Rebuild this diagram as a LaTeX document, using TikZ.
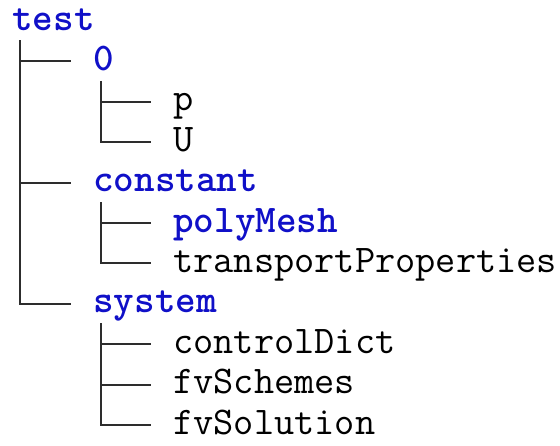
\documentclass[tikz,border=0pt]{standalone}
\usepackage{tikz}
\usetikzlibrary{calc}
\definecolor{dirblue}{RGB}{16,16,200}
\definecolor{treegray}{RGB}{45,45,45}
\tikzset{entry/.style = {anchor = base west, inner xsep = 11pt, inner ysep = 0,
                         text height = 14pt, text depth = 5pt,
                         font = \fontsize{19.6}{23}\selectfont\ttfamily}}
\tikzset{dir/.style = {entry, text = dirblue, font = \fontsize{19.6}{23}\selectfont\ttfamily\bfseries}}
\tikzset{file/.style = {entry, text = black}}
\tikzset{branch/.style = {draw = treegray, line width = 1pt}}

\begin{document}
\begin{tikzpicture}[x = 0.5pt, y = -0.5pt]
    \useasboundingbox (0, 0) rectangle (560, 445);

    \node [dir] (test) at (-10, 30) {test};
    \node [dir] (d0) at (71, 70.4) {0};
    \node [file] (p) at (151, 110.8) {p};
    \node [file] (U) at (151, 151.2) {U};
    \node [dir] (constant) at (71, 191.6) {constant};
    \node [dir] (polyMesh) at (151, 232) {polyMesh};
    \node [file] (transport) at (151, 272.4) {transportProperties};
    \node [dir] (system) at (71, 312.8) {system};
    \node [file] (controlDict) at (151, 353.2) {controlDict};
    \node [file] (fvSchemes) at (151, 393.6) {fvSchemes};
    \node [file] (fvSolution) at (151, 434) {fvSolution};

    % trunks
    \coordinate (testtrunk) at ([xshift = 15pt] test.south west);
    \coordinate (d0trunk) at ([xshift = 15pt] d0.south west);
    \coordinate (constanttrunk) at ([xshift = 15pt] constant.south west);
    \coordinate (systemtrunk) at ([xshift = 15pt] system.south west);

    \draw [branch] (testtrunk) |- (system.west);
    \draw [branch] (testtrunk |- d0.west) -- (d0.west);
    \draw [branch] (testtrunk |- constant.west) -- (constant.west);

    \draw [branch] (d0trunk) |- (U.west);
    \draw [branch] (d0trunk |- p.west) -- (p.west);

    \draw [branch] (constanttrunk) |- (transport.west);
    \draw [branch] (constanttrunk |- polyMesh.west) -- (polyMesh.west);

    \draw [branch] (systemtrunk) |- (fvSolution.west);
    \draw [branch] (systemtrunk |- controlDict.west) -- (controlDict.west);
    \draw [branch] (systemtrunk |- fvSchemes.west) -- (fvSchemes.west);
\end{tikzpicture}
\end{document}
